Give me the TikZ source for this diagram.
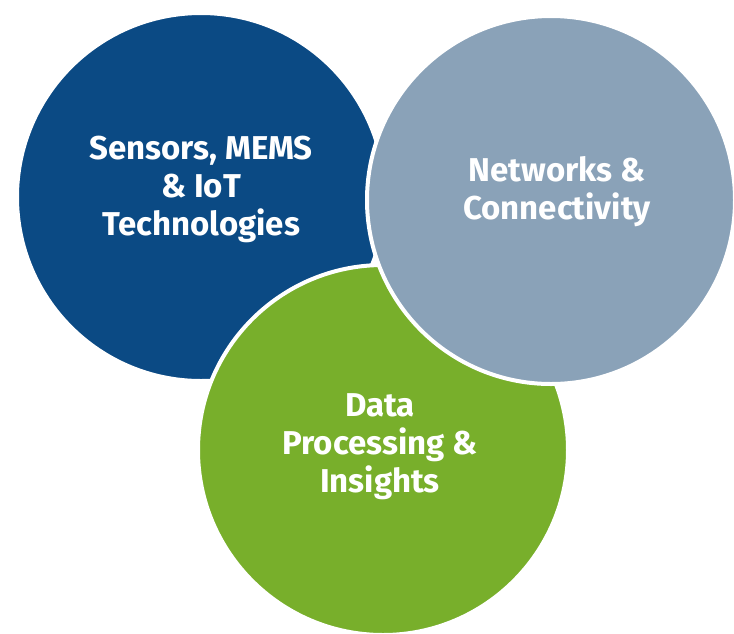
\documentclass[tikz,border=0pt]{standalone}
\usepackage{fontspec}
\setmainfont{Fira Sans}
\definecolor{cblue}{HTML}{0B4A84}
\definecolor{cgrey}{HTML}{8AA2B8}
\definecolor{cgreen}{HTML}{78AF2B}
\begin{document}
\begin{tikzpicture}[x=1pt,y=-1pt,
  bubble/.style={circle,draw=white,line width=4pt,inner sep=0pt,minimum size=#1},
  label/.style={text=white,align=center,font=\fontsize{33}{38}\selectfont\bfseries}]
\useasboundingbox[fill=white] (0,0) rectangle (734,633);
\node[bubble=368pt,fill=cblue] (blue) at (201,197) {};
\node[bubble=370pt,fill=cgreen] (green) at (383,450) {};
\node[bubble=368pt,fill=cgrey] (grey) at (551,200) {};
\node[label] (tblue) at (201,189) {Sensors, MEMS\\\& IoT\\Technologies};
\node[label] (tgrey) at (557,192) {Networks \&\\Connectivity};
\node[label] (tgreen) at (380,447) {Data\\Processing \&\\Insights};
\end{tikzpicture}
\end{document}
